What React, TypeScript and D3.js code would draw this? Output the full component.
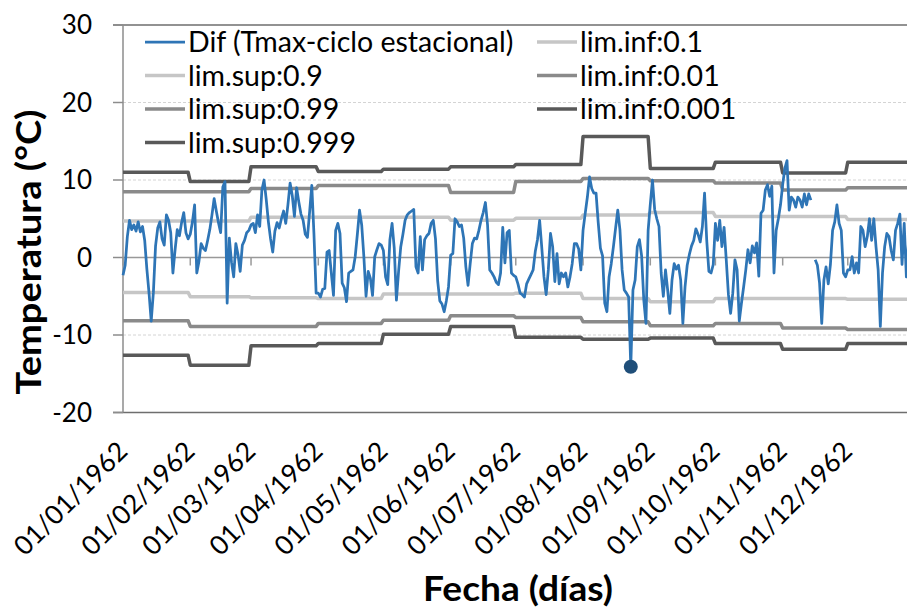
import React from 'react';
import * as d3 from 'd3';

// Daily values of Dif (Tmax - ciclo estacional), one array per month (1962)
const difJan = [-2.3, -1.0, 2.7, 4.8, 3.6, 4.2, 3.4, 4.6, 3.3, 4.0, 2.2, -1.5, -4.6, -8.2, -4.5, 1.5, 3.8, 4.6, 2.4, 1.6, 5.5, 4.8, 3.2, -2.0, 1.0, 3.6, 2.8, 4.5, 5.8, 3.2, 2.4];
const difFeb = [3.0, 4.6, 6.8, -2.0, -0.5, 1.8, 1.2, 0.9, 2.2, 3.6, 5.5, 7.6, 6.0, 4.5, 3.2, 9.1, 9.8, -5.9, 2.5, -0.6, -2.5, 1.8, 0.4, -1.8, 1.6, 2.2, 3.2, 3.5];
const difMar = [4.2, 4.4, 3.2, 5.5, 4.0, 8.7, 10.0, 7.5, 4.6, 2.4, 0.7, 3.4, 4.5, 3.8, 5.0, 6.0, 4.4, 6.8, 9.6, 8.0, 5.3, 9.0, 7.2, 5.6, 4.8, 3.0, 2.6, 5.9, 9.3, 3.0, -4.6];
const difApr = [-4.6, -5.1, -4.1, -4.0, 0.7, 0.9, -2.0, -4.9, 3.5, 4.4, 3.1, -3.3, -3.9, -5.7, -2.0, -1.8, -1.6, 0.1, 3.0, 6.1, 4.2, 0.1, -5.0, -1.8, -2.7, -4.9, 0.1, 1.0, 1.8, 1.6];
const difMay = [0.9, -2.5, -3.5, 2.3, 4.4, 1.2, -5.5, -1.8, 1.4, 3.0, 4.8, 5.5, 5.8, 6.0, 6.2, -1.2, -2.0, 2.7, -1.6, 2.3, 2.8, 3.1, 4.4, 4.8, 2.4, -3.0, -5.6, -6.0, -7.0, -5.6, -3.8];
const difJun = [0.3, 0.5, 5.0, 4.6, 4.0, 4.2, 2.5, -1.2, -3.6, -0.8, 1.8, 2.5, 2.4, 3.5, 4.8, 5.8, 7.1, 4.2, -1.6, -2.0, -2.5, -3.2, -3.5, -2.0, 3.9, -0.7, 3.2, 3.5, -2.0, -2.3];
const difJul = [-2.5, -3.4, -4.6, -4.8, -5.1, -3.4, -2.8, -2.2, -1.6, 0.8, 2.3, 4.8, 1.2, -2.5, -4.8, -1.6, 3.1, 1.4, -3.1, 0.5, -3.4, -2.0, -2.5, -2.0, -3.8, -2.5, -0.8, 1.8, 1.8, 1.1, -1.6];
const difAug = [3.5, 5.7, 7.8, 10.4, 8.9, 8.3, 8.3, 4.5, 1.2, 0.2, -5.9, -7.0, -2.5, -0.8, 1.4, 3.8, 6.1, 3.6, -1.6, -4.2, -4.6, -5.1, -14.1, -4.2, -2.9, 1.4, 2.3, 0.2, -5.5, -8.5, 3.5];
const difSep = [6.9, 10.0, 6.2, 5.0, 4.0, -2.0, -5.0, -1.6, -4.2, -7.2, -2.9, -0.8, -1.5, -1.0, -2.9, -8.5, -3.8, -1.0, 0.4, 1.5, 2.2, 3.7, 3.0, 2.0, 4.0, 8.3, 2.2, -1.8, -2.0, -0.9];
const difOct = [4.4, 2.2, 4.8, 1.4, 3.9, -0.3, -4.8, -7.2, -4.6, -0.3, -1.6, -8.2, -5.9, -3.8, -1.6, 1.0, -0.7, 1.5, 0.6, 1.9, -2.4, 5.7, 6.1, 8.7, 9.4, 7.9, 9.2, -2.0, 3.5, 5.0, 6.8];
const difNov = [9.4, 11.5, 12.5, 6.1, 7.8, 7.4, 6.5, 7.8, 7.4, 6.5, 8.2, 6.8, 8.2, 7.4, null, -0.3, -1.0, -3.3, -8.5, -2.9, -1.2, -3.4, -0.9, 3.5, 4.6, 6.8, 4.4, 3.5, -2.0, -2.5];
const difDec = [-1.6, -1.6, 0.1, -2.0, -0.7, -2.0, 4.0, 3.5, 1.4, 2.7, 5.0, 2.2, 5.0, 1.4, -1.6, -8.9, -2.0, 1.4, 3.1, 2.7, 0.9, -0.3, 3.5, 4.4, 5.6, -0.9, 4.4, -2.5, 2.0, 3.0, 1.5];

// Monthly limits (Jan..Dec)
const limSup09 = [4.7, 4.7, 5.2, 5.2, 5.2, 4.8, 5.05, 5.5, 5.8, 5.3, 5.3, 4.9];
const limSup099 = [8.5, 8.5, 8.9, 9.3, 9.3, 8.4, 9.8, 10.2, 9.9, 9.6, 8.7, 9.0];
const limSup0999 = [11.0, 9.8, 11.7, 11.1, 11.4, 11.7, 12.0, 15.6, 11.5, 12.3, 10.9, 12.3];
const limInf01 = [-4.5, -5.05, -5.2, -5.3, -4.7, -4.7, -4.6, -5.3, -5.7, -5.3, -5.3, -5.4];
const limInf001 = [-8.15, -8.9, -8.9, -8.5, -8.1, -7.5, -7.75, -8.3, -8.8, -8.5, -9.1, -9.3];
const limInf0001 = [-12.6, -13.9, -11.4, -11.1, -9.9, -8.9, -10.3, -10.55, -10.4, -11.1, -11.85, -11.1];

const yTicks = [-20, -10, 0, 10, 20, 30];
const xTickLabels = ['01/01/1962', '01/02/1962', '01/03/1962', '01/04/1962', '01/05/1962', '01/06/1962', '01/07/1962', '01/08/1962', '01/09/1962', '01/10/1962', '01/11/1962', '01/12/1962'];
const markedDate = '23/08/1962';
const markedValue = -14.1;

const BLUE = '#2e75b6';
const LIGHT = '#c6c6c6';
const MID = '#8a8a8a';
const DARK = '#595959';
const FONT = 'Lato, "Open Sans", sans-serif';

const parse = d3.timeParse('%d/%m/%Y');

export default function App() {
  const W = 907, H = 613;
  const left = 123, top = 25, bottom = 412.5;
  const start = new Date(1962, 0, 1);
  const end = new Date(1963, 0, 1);
  const x = d3.scaleTime().domain([start, end]).range([left, left + 365 * 2.17]);
  const y = d3.scaleLinear().domain([-20, 30]).range([bottom, top]);

  const dif = [...difJan, ...difFeb, ...difMar, ...difApr, ...difMay, ...difJun, ...difJul, ...difAug, ...difSep, ...difOct, ...difNov, ...difDec];
  const days = dif.map((v, i) => ({ date: d3.timeDay.offset(start, i), v }));

  const line = d3.line<{ date: Date; v: number | null }>()
    .defined(d => d.v != null)
    .x(d => x(d.date))
    .y(d => y(d.v as number));

  const limitSeries = [
    { vals: limSup09, color: LIGHT },
    { vals: limInf01, color: LIGHT },
    { vals: limSup099, color: MID },
    { vals: limInf001, color: MID },
    { vals: limSup0999, color: DARK },
    { vals: limInf0001, color: DARK },
  ];

  const tickDates = xTickLabels.map(s => parse(s) as Date);
  const mDate = parse(markedDate) as Date;

  const legend1 = [
    { label: 'Dif (Tmax-ciclo estacional)', color: BLUE, w: 2.75 },
    { label: 'lim.sup:0.9', color: LIGHT, w: 3.5 },
    { label: 'lim.sup:0.99', color: MID, w: 3.5 },
    { label: 'lim.sup:0.999', color: DARK, w: 3.5 },
  ];
  const legend2 = [
    { label: 'lim.inf:0.1', color: LIGHT, w: 3.5 },
    { label: 'lim.inf:0.01', color: MID, w: 3.5 },
    { label: 'lim.inf:0.001', color: DARK, w: 3.5 },
  ];
  const rowY = [42, 75.5, 109, 142.5];

  return (
    <svg width={W} height={H} style={{ position: 'absolute', left: 0, top: 0, background: '#fff' }} fontFamily={FONT}>
      <rect x={0} y={0} width={W} height={H} fill="#fff" />
      {/* gridlines */}
      {yTicks.filter(t => t !== 0 && t !== 30 && t !== -20).map(t => (
        <line key={'g' + t} x1={left} x2={W} y1={y(t)} y2={y(t)} stroke="#d4d4d4" strokeWidth={1} strokeDasharray="3,2" />
      ))}
      {/* border lines */}
      <line x1={left - 10} x2={W} y1={y(30)} y2={y(30)} stroke="#6e6e6e" strokeWidth={1.5} />
      <line x1={left - 10} x2={W} y1={y(-20)} y2={y(-20)} stroke="#6e6e6e" strokeWidth={1.5} />
      <line x1={left} x2={left} y1={top} y2={bottom} stroke="#8c8c8c" strokeWidth={1.5} />
      {yTicks.map(t => (
        <g key={'yt' + t}>
          <line x1={left - 10} x2={left} y1={y(t)} y2={y(t)} stroke="#8c8c8c" strokeWidth={1.5} />
          <text x={92} y={y(t) + 9} textAnchor="end" fontSize={26} fill="#000">{t}</text>
        </g>
      ))}
      {/* zero axis with month ticks */}
      <line x1={left} x2={W} y1={y(0)} y2={y(0)} stroke="#999" strokeWidth={1.5} />
      {tickDates.map((d, i) => (
        <line key={'xt' + i} x1={x(d)} x2={x(d)} y1={y(0)} y2={y(0) + 8} stroke="#999" strokeWidth={1.5} />
      ))}
      {/* x tick labels */}
      {tickDates.map((d, i) => (
        <text key={'xl' + i} transform={`translate(${x(d) + 6},${453}) rotate(-45)`} textAnchor="end" fontSize={26.5} fill="#000">
          {xTickLabels[i]}
        </text>
      ))}
      {/* limit lines */}
      {limitSeries.map((s, k) => {
        const pts = days.map(d => ({ date: d.date, v: s.vals[d.date.getMonth()] }));
        return <path key={'lim' + k} d={line(pts) || ''} fill="none" stroke={s.color} strokeWidth={3.5} strokeLinejoin="round" />;
      })}
      {/* Dif series */}
      <path d={line(days) || ''} fill="none" stroke={BLUE} strokeWidth={2.75} strokeLinejoin="round" />
      <circle cx={x(mDate)} cy={y(markedValue)} r={7} fill="#1f4e79" />
      {/* legend */}
      {legend1.map((l, i) => (
        <g key={'l1' + i}>
          <line x1={145} x2={185} y1={rowY[i]} y2={rowY[i]} stroke={l.color} strokeWidth={l.w} />
          <text x={188} y={rowY[i] + 10} fontSize={28.5} fill="#000">{l.label}</text>
        </g>
      ))}
      {legend2.map((l, i) => (
        <g key={'l2' + i}>
          <line x1={537} x2={577} y1={rowY[i]} y2={rowY[i]} stroke={l.color} strokeWidth={l.w} />
          <text x={580} y={rowY[i] + 10} fontSize={28.5} fill="#000">{l.label}</text>
        </g>
      ))}
      {/* axis titles */}
      <text transform={`translate(41,252) rotate(-90)`} textAnchor="middle" fontSize={34} fontWeight="bold" fill="#000" textLength={285} lengthAdjust="spacingAndGlyphs">Temperatura (°C)</text>
      <text x={518} y={601} textAnchor="middle" fontSize={34} fontWeight="bold" fill="#000" textLength={190} lengthAdjust="spacingAndGlyphs">Fecha (días)</text>
    </svg>
  );
}
